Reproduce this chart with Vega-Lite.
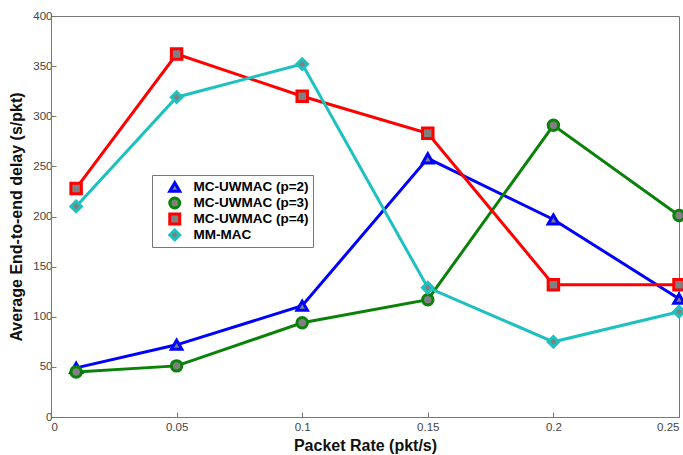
{
  "$schema": "https://vega.github.io/schema/vega-lite/v6.json",
  "width": 628,
  "height": 401,
  "autosize": {"type": "none"},
  "padding": {"left": 51, "top": 16, "right": 4, "bottom": 38},
  "background": "white",
  "config": {
    "view": {"stroke": "#777777", "strokeWidth": 1},
    "font": "Liberation Sans",
    "axis": {
      "grid": false,
      "domainColor": "#777777",
      "tickColor": "#777777",
      "tickSize": -5,
      "labelColor": "#444444",
      "labelFontSize": 11.5,
      "labelFont": "Liberation Sans",
      "titleFont": "Liberation Sans",
      "titleFontSize": 16,
      "titleFontWeight": "bold",
      "titleColor": "#111111"
    }
  },
  "data": {
    "values": [
      {"rate": 0.01, "delay": 49, "series": "MC-UWMAC (p=2)"},
      {"rate": 0.05, "delay": 72, "series": "MC-UWMAC (p=2)"},
      {"rate": 0.1, "delay": 111, "series": "MC-UWMAC (p=2)"},
      {"rate": 0.15, "delay": 258, "series": "MC-UWMAC (p=2)"},
      {"rate": 0.2, "delay": 197, "series": "MC-UWMAC (p=2)"},
      {"rate": 0.25, "delay": 118, "series": "MC-UWMAC (p=2)"},
      {"rate": 0.01, "delay": 45, "series": "MC-UWMAC (p=3)"},
      {"rate": 0.05, "delay": 51, "series": "MC-UWMAC (p=3)"},
      {"rate": 0.1, "delay": 94, "series": "MC-UWMAC (p=3)"},
      {"rate": 0.15, "delay": 117, "series": "MC-UWMAC (p=3)"},
      {"rate": 0.2, "delay": 291, "series": "MC-UWMAC (p=3)"},
      {"rate": 0.25, "delay": 201, "series": "MC-UWMAC (p=3)"},
      {"rate": 0.01, "delay": 228, "series": "MC-UWMAC (p=4)"},
      {"rate": 0.05, "delay": 362, "series": "MC-UWMAC (p=4)"},
      {"rate": 0.1, "delay": 320, "series": "MC-UWMAC (p=4)"},
      {"rate": 0.15, "delay": 283, "series": "MC-UWMAC (p=4)"},
      {"rate": 0.2, "delay": 132, "series": "MC-UWMAC (p=4)"},
      {"rate": 0.25, "delay": 132, "series": "MC-UWMAC (p=4)"},
      {"rate": 0.01, "delay": 210, "series": "MM-MAC"},
      {"rate": 0.05, "delay": 319, "series": "MM-MAC"},
      {"rate": 0.1, "delay": 352, "series": "MM-MAC"},
      {"rate": 0.15, "delay": 129, "series": "MM-MAC"},
      {"rate": 0.2, "delay": 75, "series": "MM-MAC"},
      {"rate": 0.25, "delay": 105, "series": "MM-MAC"}
    ]
  },
  "encoding": {
    "x": {
      "field": "rate", "type": "quantitative",
      "scale": {"domain": [0, 0.25], "nice": false},
      "axis": {"values": [0, 0.05, 0.1, 0.15, 0.2, 0.25], "format": "~g", "title": "Packet Rate (pkt/s)", "labelPadding": 9, "titlePadding": 5}
    },
    "y": {
      "field": "delay", "type": "quantitative",
      "scale": {"domain": [0, 400], "nice": false},
      "axis": {"values": [0, 50, 100, 150, 200, 250, 300, 350, 400], "title": "Average End-to-end delay (s/pkt)", "labelPadding": 4, "titlePadding": 8}
    },
    "color": {
      "field": "series", "type": "nominal",
      "scale": {"domain": ["MC-UWMAC (p=2)", "MC-UWMAC (p=3)", "MC-UWMAC (p=4)", "MM-MAC"], "range": ["#0000ff", "#0a820a", "#ff0000", "#1ec0c0"]},
      "legend": {
        "title": null, "orient": "none", "legendX": 101, "legendY": 159,
        "labelFont": "Liberation Sans", "labelFontSize": 13.5, "labelFontWeight": "bold", "labelColor": "#000000",
        "strokeColor": "#777777", "fillColor": "white", "padding": 4, "rowPadding": 0, "clipHeight": 16,
        "symbolOffset": 12, "labelOffset": 12,
        "symbolFillColor": "#808080", "symbolStrokeWidth": 3, "symbolSize": 100, "symbolOpacity": 1
      }
    }
  },
  "layer": [
    {
      "mark": {"type": "line", "strokeWidth": 3}
    },
    {
      "mark": {"type": "point", "filled": false, "fill": "#808080", "fillOpacity": 1, "strokeWidth": 3, "size": 110, "opacity": 1},
      "encoding": {
        "shape": {
          "field": "series", "type": "nominal",
          "scale": {"domain": ["MC-UWMAC (p=2)", "MC-UWMAC (p=3)", "MC-UWMAC (p=4)", "MM-MAC"], "range": ["triangle-up", "circle", "square", "diamond"]}
        }
      }
    }
  ]
}
